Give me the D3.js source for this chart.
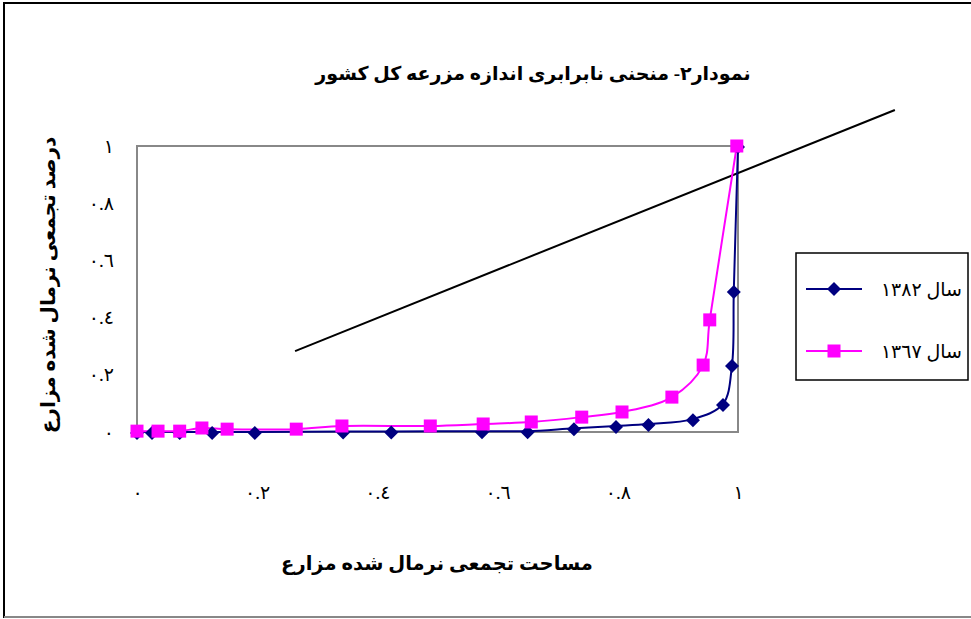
<!DOCTYPE html>
<html><head><meta charset="utf-8">
<script src="https://cdn.jsdelivr.net/npm/d3@7/dist/d3.min.js"></script>
<style>
html,body{margin:0;padding:0;background:#fff;}
text{font-family:"Liberation Serif","DejaVu Sans",serif;}
</style></head>
<body><svg id="c" width="971" height="619"></svg>
<script>
const title = "نمودار٢- منحنی نابرابری اندازه مزرعه کل کشور";
const xTitle = "مساحت تجمعی نرمال شده مزارع";
const yTitle = "درصد تجمعی نرمال شده مزارع";
const tickValues = [0, 0.2, 0.4, 0.6, 0.8, 1];
const tickLabels = ["٠", "٠.٢", "٠.٤", "٠.٦", "٠.٨", "١"];
const seriesNames = ["سال ١٣٨٢", "سال ١٣٦٧"];
const x1382 = [0, 0.025, 0.071, 0.125, 0.196, 0.343, 0.423, 0.574, 0.650, 0.727, 0.797, 0.851, 0.925, 0.975, 0.990, 0.993, 1.0];
const y1382 = [0, 0, 0, 0, 0, 0.002, 0.002, 0.003, 0.003, 0.013, 0.021, 0.028, 0.045, 0.098, 0.234, 0.493, 1.0];
const x1367 = [0, 0.035, 0.071, 0.108, 0.150, 0.265, 0.341, 0.488, 0.576, 0.656, 0.740, 0.807, 0.890, 0.942, 0.953, 0.998];
const y1367 = [0.003, 0.003, 0.003, 0.014, 0.010, 0.010, 0.021, 0.021, 0.028, 0.035, 0.052, 0.070, 0.122, 0.234, 0.392, 1.0];
// drawn straight line (annotation), in data units
const lineX = [0.263, 1.261];
const lineY = [0.283, 1.126];

const svg = d3.select("#c");
// outer frame
svg.append("rect").attr("x",4).attr("y",3).attr("width",980).attr("height",614)
  .attr("fill","none").attr("stroke","#000").attr("stroke-width",2);
svg.append("line").attr("x1",4).attr("x2",971).attr("y1",617).attr("y2",617)
  .attr("stroke","#888").attr("stroke-width",2);

const x = d3.scaleLinear().domain([0,1]).range([137,738]);
const y = d3.scaleLinear().domain([0,1]).range([432,146]);

// plot frame
svg.append("rect").attr("x",x(0)).attr("y",y(1)).attr("width",x(1)-x(0)).attr("height",y(0)-y(1))
  .attr("fill","none").attr("stroke","#888").attr("stroke-width",2);

// axes (labels only)
const xAxis = d3.axisBottom(x).tickValues(tickValues).tickFormat((d,i)=>tickLabels[i]).tickSize(0).tickPadding(0);
const gx = svg.append("g").attr("transform","translate(0,499)").call(xAxis);
gx.select(".domain").remove();
gx.selectAll("text").attr("font-size",19).attr("fill","#000").attr("direction","ltr").attr("dy","0");

const yAxis = d3.axisLeft(y).tickValues(tickValues).tickFormat((d,i)=>tickLabels[i]).tickSize(0).tickPadding(0);
const gy = svg.append("g").attr("transform","translate(114,0)").call(yAxis);
gy.select(".domain").remove();
gy.selectAll("text").attr("font-size",19).attr("fill","#000").attr("direction","ltr");

// annotation line
svg.append("line").attr("x1",x(lineX[0])).attr("y1",y(lineY[0])).attr("x2",x(lineX[1])).attr("y2",y(lineY[1]))
  .attr("stroke","#000").attr("stroke-width",2);

const s1382 = x1382.map((v,i)=>[v,y1382[i]]);
const s1367 = x1367.map((v,i)=>[v,y1367[i]]);
const line = d3.line().x(d=>x(d[0])).y(d=>y(d[1])).curve(d3.curveCatmullRom.alpha(0.5));

svg.append("path").attr("d",line(s1382)).attr("fill","none").attr("stroke","#000080").attr("stroke-width",2);
svg.append("path").attr("d",line(s1367)).attr("fill","none").attr("stroke","#ff00ff").attr("stroke-width",2);

function diamondPath(cx,cy,r){return `M${cx},${cy-r}L${cx+r},${cy}L${cx},${cy+r}L${cx-r},${cy}Z`;}
svg.append("g").selectAll("path").data(s1382).join("path")
  .attr("d",d=>diamondPath(x(d[0]),y(d[1])+1,7)).attr("fill","#000080");
svg.append("g").selectAll("rect").data(s1367).join("rect")
  .attr("x",d=>x(d[0])-6.5).attr("y",d=>y(d[1])-6.5).attr("width",13).attr("height",13).attr("fill","#ff00ff");

// titles
svg.append("text").attr("x",533).attr("y",80).attr("text-anchor","middle").attr("font-size",19)
  .attr("font-weight","bold").text(title);
svg.append("text").attr("x",437).attr("y",570).attr("text-anchor","middle").attr("font-size",19.5)
  .attr("font-weight","bold").text(xTitle);
svg.append("text").attr("transform","translate(55,285) rotate(-90)").attr("text-anchor","middle").attr("font-size",20)
  .attr("font-weight","bold").text(yTitle);

// legend
const lg = svg.append("g");
lg.append("rect").attr("x",796).attr("y",253).attr("width",172).attr("height",127)
  .attr("fill","#fff").attr("stroke","#000").attr("stroke-width",1.5);
const legY = [289, 351];
const colors = ["#000080","#ff00ff"];
legY.forEach((ly,i)=>{
  lg.append("line").attr("x1",806).attr("x2",862).attr("y1",ly).attr("y2",ly).attr("stroke",colors[i]).attr("stroke-width",2);
  if(i===0) lg.append("path").attr("d",diamondPath(834,ly,7)).attr("fill",colors[i]);
  else lg.append("rect").attr("x",827.5).attr("y",ly-6.5).attr("width",13).attr("height",13).attr("fill",colors[i]);
  lg.append("text").attr("x",962).attr("y",ly+7).attr("text-anchor","end").attr("font-size",19)
    .text(seriesNames[i]);
});
</script></body></html>
